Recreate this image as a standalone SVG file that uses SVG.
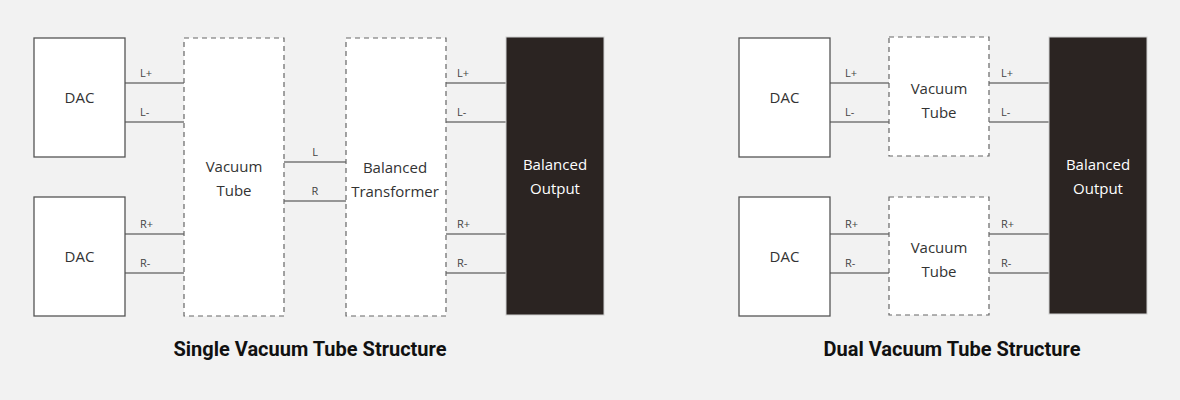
<svg xmlns="http://www.w3.org/2000/svg" width="1180" height="400" viewBox="0 0 1180 400">
<style>
.bg{fill:#f2f2f2}
.dac{fill:#fff;stroke:#555;stroke-width:1.3}
.tube{fill:#fff;stroke:#666;stroke-width:1.2;stroke-dasharray:5 4}
.out{fill:#2b2422;stroke:#d0d0d0;stroke-width:1}
.w{stroke:#777;stroke-width:1.6;fill:none}
.t{font-family:"Open Sans","Noto Sans",sans-serif;font-size:15px;fill:#333;text-anchor:middle}
.tw{font-family:"Open Sans","Noto Sans",sans-serif;font-size:15px;fill:#fff;text-anchor:middle}
.s{font-family:"Open Sans","Noto Sans",sans-serif;font-size:11px;fill:#444}
.sc{font-family:"Open Sans","Noto Sans",sans-serif;font-size:11px;fill:#444;text-anchor:middle}
.h{font-family:Roboto,"Liberation Sans",sans-serif;font-size:20px;font-weight:bold;fill:#111;text-anchor:middle}
</style>
<rect class="bg" x="0" y="0" width="1180" height="400"/>

<g id="connectors">
  <line class="w" x1="125" y1="83" x2="184" y2="83"/>
  <line class="w" x1="125" y1="122" x2="184" y2="122"/>
  <line class="w" x1="125" y1="234" x2="184" y2="234"/>
  <line class="w" x1="125" y1="273" x2="184" y2="273"/>
  <line class="w" x1="284" y1="162" x2="346" y2="162"/>
  <line class="w" x1="284" y1="201" x2="346" y2="201"/>
  <line class="w" x1="446" y1="83" x2="506" y2="83"/>
  <line class="w" x1="446" y1="122" x2="506" y2="122"/>
  <line class="w" x1="446" y1="234" x2="506" y2="234"/>
  <line class="w" x1="446" y1="273" x2="506" y2="273"/>

  <line class="w" x1="830" y1="83" x2="889" y2="83"/>
  <line class="w" x1="830" y1="122" x2="889" y2="122"/>
  <line class="w" x1="830" y1="234" x2="889" y2="234"/>
  <line class="w" x1="830" y1="273" x2="889" y2="273"/>
  <line class="w" x1="989" y1="83" x2="1049" y2="83"/>
  <line class="w" x1="989" y1="122" x2="1049" y2="122"/>
  <line class="w" x1="989" y1="234" x2="1049" y2="234"/>
  <line class="w" x1="989" y1="273" x2="1049" y2="273"/>

  <text class="s" x="140" y="77">L+</text>
  <text class="s" x="140" y="116">L-</text>
  <text class="s" x="140" y="228">R+</text>
  <text class="s" x="140" y="267">R-</text>
  <text class="sc" x="315" y="156">L</text>
  <text class="sc" x="315" y="195">R</text>
  <text class="s" x="457" y="77">L+</text>
  <text class="s" x="457" y="116">L-</text>
  <text class="s" x="457" y="228">R+</text>
  <text class="s" x="457" y="267">R-</text>

  <text class="s" x="845" y="77">L+</text>
  <text class="s" x="845" y="116">L-</text>
  <text class="s" x="845" y="228">R+</text>
  <text class="s" x="845" y="267">R-</text>
  <text class="s" x="1001" y="77">L+</text>
  <text class="s" x="1001" y="116">L-</text>
  <text class="s" x="1001" y="228">R+</text>
  <text class="s" x="1001" y="267">R-</text>
</g>

<g id="dac1"><rect class="dac" x="34" y="38" width="91" height="119"/><text class="t" x="79.5" y="103">DAC</text></g>
<g id="dac2"><rect class="dac" x="34" y="197" width="91" height="119"/><text class="t" x="79.5" y="262">DAC</text></g>
<g id="tube"><rect class="tube" x="184" y="38" width="100" height="278"/><text class="t" x="234" y="172">Vacuum</text><text class="t" x="234" y="196">Tube</text></g>
<g id="transformer"><rect class="tube" x="346" y="38" width="100" height="278"/><text class="t" x="395" y="173">Balanced</text><text class="t" x="395" y="197">Transformer</text></g>
<g id="output1"><rect class="out" x="506" y="37" width="98" height="278"/><text class="tw" x="555" y="170">Balanced</text><text class="tw" x="555" y="194">Output</text></g>
<g id="title1"><text class="h" x="310" y="356">Single Vacuum Tube Structure</text></g>

<g id="dac3"><rect class="dac" x="739" y="38" width="91" height="119"/><text class="t" x="784.5" y="103">DAC</text></g>
<g id="dac4"><rect class="dac" x="739" y="197" width="91" height="119"/><text class="t" x="784.5" y="262">DAC</text></g>
<g id="tube1"><rect class="tube" x="889" y="37" width="100" height="119"/><text class="t" x="939" y="94">Vacuum</text><text class="t" x="939" y="118">Tube</text></g>
<g id="tube2"><rect class="tube" x="889" y="197" width="100" height="118"/><text class="t" x="939" y="253">Vacuum</text><text class="t" x="939" y="277">Tube</text></g>
<g id="output2"><rect class="out" x="1049" y="37" width="98" height="277"/><text class="tw" x="1098" y="170">Balanced</text><text class="tw" x="1098" y="194">Output</text></g>
<g id="title2"><text class="h" x="952" y="356">Dual Vacuum Tube Structure</text></g>
</svg>
